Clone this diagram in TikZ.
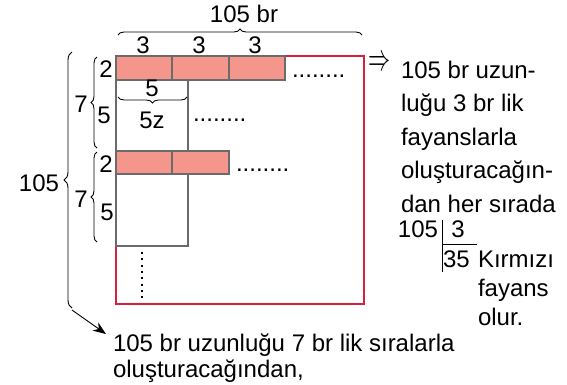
\documentclass[tikz,border=0pt]{standalone}
\usepackage{fontspec}
\setmainfont{Liberation Sans}
\usetikzlibrary{decorations.pathreplacing,arrows.meta}
\definecolor{redline}{HTML}{D8203A}
\definecolor{tilefill}{HTML}{F4968B}
\definecolor{tileedge}{HTML}{6B6B6B}
\tikzset{
  lbl/.style={font=\fontsize{24}{28}\selectfont, inner sep=0pt, outer sep=0pt},
  tile/.style={draw=tileedge, fill=tilefill, line width=1.4pt},
  wbox/.style={draw=tileedge, line width=1.4pt},
  brc/.style={decorate, decoration={brace, amplitude=#1}, line width=0.9pt},
  brc/.default=7pt,
}
\begin{document}
\begin{tikzpicture}[x=1pt,y=-1pt]
\useasboundingbox (0,0) rectangle (567,384);
% outer red rectangle
\draw[redline, line width=1.4pt] (116,56) rectangle (364,304);
% row 1 tiles
\draw[tile] (116,56) rectangle (172,80);
\draw[tile] (172,56) rectangle (229,80);
\draw[tile] (229,56) rectangle (285,80);
\draw[wbox] (116,80) rectangle (188,151);
% row 2 tiles
\draw[tile] (116,151) rectangle (172,174);
\draw[tile] (172,151) rectangle (229,174);
\draw[wbox] (116,174) rectangle (188,246);
% vertical dots
\draw[line width=2pt, dash pattern=on 2pt off 4.3pt] (142,252) -- (142,302);
% top brace
\draw[brc=6pt] (118,35) -- (362,35);
\node[lbl, anchor=base] (t105) at (244,22) {105 br};
\node[lbl, anchor=base] (t3a) at (143,53) {3};
\node[lbl, anchor=base] (t3b) at (199,53) {3};
\node[lbl, anchor=base] (t3c) at (255,53) {3};
% small brace under 5
\draw[brc=6pt] (187,97) -- (118,97);
\node[lbl, anchor=base] (s5) at (152,96) {5};
\node[lbl, anchor=base] (s5z) at (152,128) {5z};
% dots
\node[lbl, anchor=base west] (d1) at (292,77) {........};
\node[lbl, anchor=base west] (d2) at (193,121) {........};
\node[lbl, anchor=base west] (d3) at (236,171) {........};
% left labels
\node[lbl, anchor=base] (l2a) at (106,77) {2};
\node[lbl, anchor=base] (l5a) at (104,123) {5};
\draw[brc=6pt] (97,148) -- (97,57);
\node[lbl, anchor=base] (l7a) at (81,112) {7};
\node[lbl, anchor=base] (l2b) at (106,172) {2};
\node[lbl, anchor=base] (l5b) at (107,220) {5};
\draw[brc=6pt] (97,242) -- (97,152);
\node[lbl, anchor=base] (l7b) at (81,207) {7};
% big brace
\draw[brc=8pt] (72,308) -- (72,52);
\node[lbl, anchor=base] (l105) at (39,191) {105};
\coordinate (arrstart) at (72,310);
\coordinate (arrend) at (106,334);
\draw[line width=0.9pt, -{Stealth[length=13pt,width=10pt]}] (arrstart) -- (arrend);
% bottom text
\node[lbl, anchor=base west] (b1) at (113,351) {105 br uzunluğu 7 br lik sıralarla};
\node[lbl, anchor=base west] (b2) at (113,377) {oluşturacağından,};
% right text
\node[inner sep=0pt, anchor=center] (impl) at (379,63) {\resizebox{22pt}{14pt}{$\Rightarrow$}};
\node[lbl, anchor=base west] (r1) at (401,78) {105 br uzun-};
\node[lbl, anchor=base west] (r2) at (401,111) {luğu 3 br lik};
\node[lbl, anchor=base west] (r3) at (401,145) {fayanslarla};
\node[lbl, anchor=base west] (r4) at (401,178) {oluşturacağın-};
\node[lbl, anchor=base west] (r5) at (401,212) {dan her sırada};
% division
\node[lbl, anchor=base east] (dv1) at (438,237) {105};
\node[lbl, anchor=base] (dv2) at (458,237) {3};
\draw[line width=1pt] (442,220) -- (442,272);
\draw[line width=1pt] (442,244) -- (477,244);
\node[lbl, anchor=base west] (dv3) at (443,267) {35};
\node[lbl, anchor=base west] (k1) at (478,267) {Kırmızı};
\node[lbl, anchor=base west] (k2) at (478,296) {fayans};
\node[lbl, anchor=base west] (k3) at (478,325) {olur.};
\end{tikzpicture}
\end{document}
